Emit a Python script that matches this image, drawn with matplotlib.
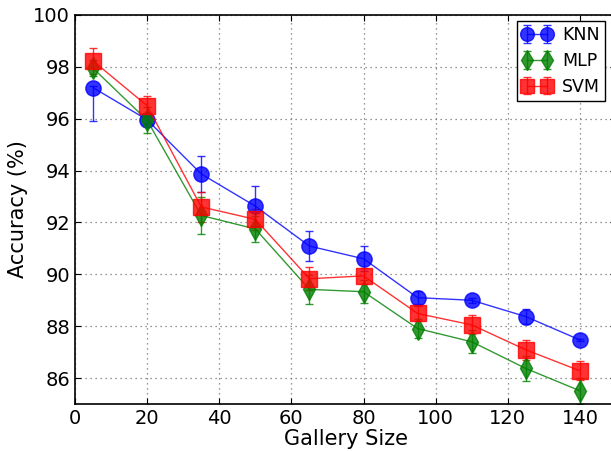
import matplotlib
matplotlib.use("Agg")
import matplotlib.pyplot as plt

gallery = [5, 20, 35, 50, 65, 80, 95, 110, 125, 140]
knn = [97.2, 95.96, 93.87, 92.63, 91.09, 90.6, 89.1, 89.0, 88.37, 87.47]
knn_lo = [1.3, 0.15, 0.7, 0.77, 0.58, 0.48, 0.25, 0.1, 0.3, 0.05]
knn_hi = [0.08, 0.15, 0.7, 0.77, 0.58, 0.48, 0.25, 0.1, 0.3, 0.05]
mlp = [97.95, 95.94, 92.27, 91.75, 89.42, 89.33, 87.91, 87.4, 86.37, 85.51]
mlp_err = [0.3, 0.5, 0.7, 0.5, 0.57, 0.45, 0.35, 0.44, 0.5, 0.5]
svm = [98.23, 96.5, 92.6, 92.12, 89.83, 89.94, 88.49, 88.05, 87.09, 86.28]
svm_err = [0.5, 0.38, 0.57, 0.4, 0.45, 0.3, 0.3, 0.37, 0.38, 0.36]

plt.rcParams['font.family'] = ['DejaVu Sans']
fig = plt.figure(figsize=(6.11, 4.51), dpi=100)
ax = fig.add_axes([75/611, 47/451, 541/611, 389/451])

ax.errorbar(gallery, knn, yerr=[knn_lo, knn_hi], color='b', marker='o', markersize=11,
            markeredgecolor='b', lw=1, capsize=3, alpha=0.8, label='KNN')
ax.errorbar(gallery, mlp, yerr=mlp_err, color='g', marker='d', markersize=11,
            markeredgecolor='g', lw=1, capsize=3, alpha=0.8, label='MLP')
ax.errorbar(gallery, svm, yerr=svm_err, color='r', marker='s', markersize=11,
            markeredgecolor='r', lw=1, capsize=3, alpha=0.8, label='SVM')

ax.set_xlim(0, 150)
ax.set_ylim(85, 100)
ax.set_xticks([0, 20, 40, 60, 80, 100, 120, 140])
ax.set_yticks([86, 88, 90, 92, 94, 96, 98, 100])
ax.grid(True, color='0.45', linestyle=(0, (1, 3)), linewidth=0.9)
ax.tick_params(direction='in', labelsize=14, top=True, right=True, length=4)
ax.set_xlabel('Gallery Size', fontsize=15, labelpad=1)
ax.set_ylabel('Accuracy (%)', fontsize=15)
leg = ax.legend(loc='upper left', bbox_to_anchor=(517/611, 1 - 21/451),
                bbox_transform=fig.transFigure, numpoints=2, fontsize=12.5,
                fancybox=False, framealpha=1, edgecolor='k', borderpad=0.3,
                handletextpad=0.6, labelspacing=0.45, handlelength=1.7, borderaxespad=0,
                markerscale=0.9)
leg.get_frame().set_linewidth(1)
for s in ax.spines.values():
    s.set_linewidth(1.2)

fig.savefig('out.png', dpi=100, facecolor='white')
